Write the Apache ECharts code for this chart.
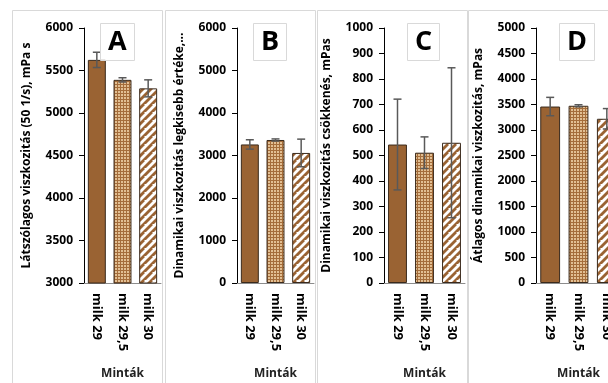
<!DOCTYPE html>
<html>
<head>
<meta charset="utf-8">
<script src="https://cdn.jsdelivr.net/npm/echarts@6/dist/echarts.min.js"></script>
<style>
  html, body { margin: 0; padding: 0; background: #fff; }
  #main { width: 608px; height: 383px; }
</style>
</head>
<body>
<div id="main"></div>
<script>
// minták
var categories = ['milk 29', 'milk 29,5', 'milk 30'];

// A - látszólagos viszkozitás
var valuesA = [5625, 5390, 5290];
var errA = [90, 25, 100];
// B - dinamikai viszkozitás legkisebb értéke
var valuesB = [3260, 3365, 3060];
var errB = [110, 25, 325];
// C - dinamikai viszkozitás csökkenés
var valuesC = [543, 511, 550];
var errC = [178, 62, 294];
// D - átlagos dinamikai viszkozitás
var valuesD = [3460, 3475, 3220];
var errD = [180, 20, 200];

var panelLetters = ['A', 'B', 'C', 'D'];
var yNames = [
  'Látszólagos viszkozitás (50 1/s), mPa s',
  'Dinamikai viszkozitás legkisebb értéke,...',
  'Dinamikai viszkozitás csökkenés, mPas',
  'Átlagos dinamikai viszkozitás, mPas'
];
var yMin = [3000, 0, 0, 0];
var yMax = [6000, 6000, 1000, 5000];
var yInterval = [500, 1000, 100, 500];

var FONT = 'Open Sans';
var BROWN = '#9a6333';

// fill patterns
function dotPattern() {
  var c = document.createElement('canvas');
  c.width = 3; c.height = 3;
  var ctx = c.getContext('2d');
  ctx.fillStyle = '#a56d3a';
  ctx.fillRect(0, 0, 3, 3);
  ctx.fillStyle = '#e2bf93';
  ctx.fillRect(1, 1, 2, 2);
  return c;
}
function stripePattern() {
  var c = document.createElement('canvas');
  c.width = 8; c.height = 8;
  var ctx = c.getContext('2d');
  ctx.fillStyle = '#ffffff';
  ctx.fillRect(0, 0, 8, 8);
  ctx.strokeStyle = BROWN;
  ctx.lineWidth = 2.8;
  for (var k = -8; k <= 16; k += 8) {
    ctx.beginPath();
    ctx.moveTo(k - 8, 16);
    ctx.lineTo(k + 8, 0);
    ctx.stroke();
  }
  return c;
}
var fills = [
  BROWN,
  { image: dotPattern(), repeat: 'repeat' },
  { image: stripePattern(), repeat: 'repeat' }
];

var grids = [
  { left: 84, top: 28, width: 77, height: 255, outerBoundsMode: 'none' },
  { left: 237, top: 28, width: 77, height: 255, outerBoundsMode: 'none' },
  { left: 384, top: 28, width: 81, height: 255, outerBoundsMode: 'none' },
  { left: 536, top: 28, width: 85, height: 255, outerBoundsMode: 'none' }
];
var panelX = [12, 165, 317, 468];
var titleLeft = [100, 253, 407, 559];

var allValues = [valuesA, valuesB, valuesC, valuesD];
var allErr = [errA, errB, errC, errD];

var xAxes = [], yAxes = [], series = [], titles = [], graphics = [];

for (var i = 0; i < 4; i++) {
  graphics.push({
    type: 'rect', z: -1,
    shape: { x: panelX[i] + 0.5, y: 10.5, width: 150, height: 390 },
    style: { fill: '#fff', stroke: '#d9d9d9', lineWidth: 1 }
  });
  titles.push({
    text: panelLetters[i],
    left: titleLeft[i], top: 23,
    padding: [3, 8, 3, 8],
    borderColor: '#d9d9d9', borderWidth: 1,
    textStyle: { fontFamily: FONT, fontSize: 27, fontWeight: 'bold', color: '#000', lineHeight: 32 }
  });
  xAxes.push({
    gridIndex: i,
    type: 'category',
    data: categories,
    name: 'Minták',
    nameLocation: 'middle',
    nameGap: 85,
    nameMoveOverlap: false,
    nameTextStyle: { fontFamily: FONT, fontSize: 12, fontWeight: 'bold', color: '#222' },
    axisLine: { lineStyle: { color: '#8c8c8c', width: 1 } },
    axisTick: { show: false },
    axisLabel: { rotate: -90, fontFamily: FONT, fontSize: 13, fontWeight: 'bold', color: '#000', margin: 10, interval: 0 }
  });
  yAxes.push({
    gridIndex: i,
    type: 'value',
    min: yMin[i], max: yMax[i], interval: yInterval[i],
    name: yNames[i],
    nameLocation: 'middle',
    nameRotate: 90,
    nameGap: 51,
    nameMoveOverlap: false,
    nameTextStyle: { fontFamily: FONT, fontSize: 12, fontWeight: 'bold', color: '#000' },
    axisLine: { show: true, lineStyle: { color: '#000', width: 1 } },
    axisTick: { show: true, length: 5, lineStyle: { color: '#000' } },
    splitLine: { show: false },
    axisLabel: {
      fontFamily: FONT, fontSize: 12, fontWeight: 'bold', color: '#000', margin: 11,
      formatter: function (v) { return String(v); }
    }
  });

  var vals = allValues[i];
  series.push({
    type: 'bar',
    xAxisIndex: i, yAxisIndex: i,
    barWidth: '70%',
    data: vals.map(function (v, j) {
      return { value: v, itemStyle: { color: fills[j], borderColor: '#3a2a1c', borderWidth: 1 } };
    }),
    silent: true
  });

  var errs = allErr[i];
  series.push({
    type: 'custom',
    xAxisIndex: i, yAxisIndex: i,
    silent: true,
    z: 5,
    data: vals.map(function (v, j) { return [j, v - errs[j], v + errs[j]]; }),
    renderItem: function (params, api) {
      var lo = api.coord([api.value(0), api.value(1)]);
      var hi = api.coord([api.value(0), api.value(2)]);
      var cap = 4;
      var st = { stroke: '#595959', lineWidth: 1.5 };
      return {
        type: 'group',
        children: [
          { type: 'line', shape: { x1: hi[0], y1: hi[1], x2: lo[0], y2: lo[1] }, style: st },
          { type: 'line', shape: { x1: hi[0] - cap, y1: hi[1], x2: hi[0] + cap, y2: hi[1] }, style: st },
          { type: 'line', shape: { x1: lo[0] - cap, y1: lo[1], x2: lo[0] + cap, y2: lo[1] }, style: st }
        ]
      };
    }
  });
}

var chart = echarts.init(document.getElementById('main'), null, { renderer: 'canvas' });
chart.setOption({
  backgroundColor: '#fff',
  animation: false,
  title: titles,
  grid: grids,
  xAxis: xAxes,
  yAxis: yAxes,
  series: series,
  graphic: graphics
});
</script>
</body>
</html>
